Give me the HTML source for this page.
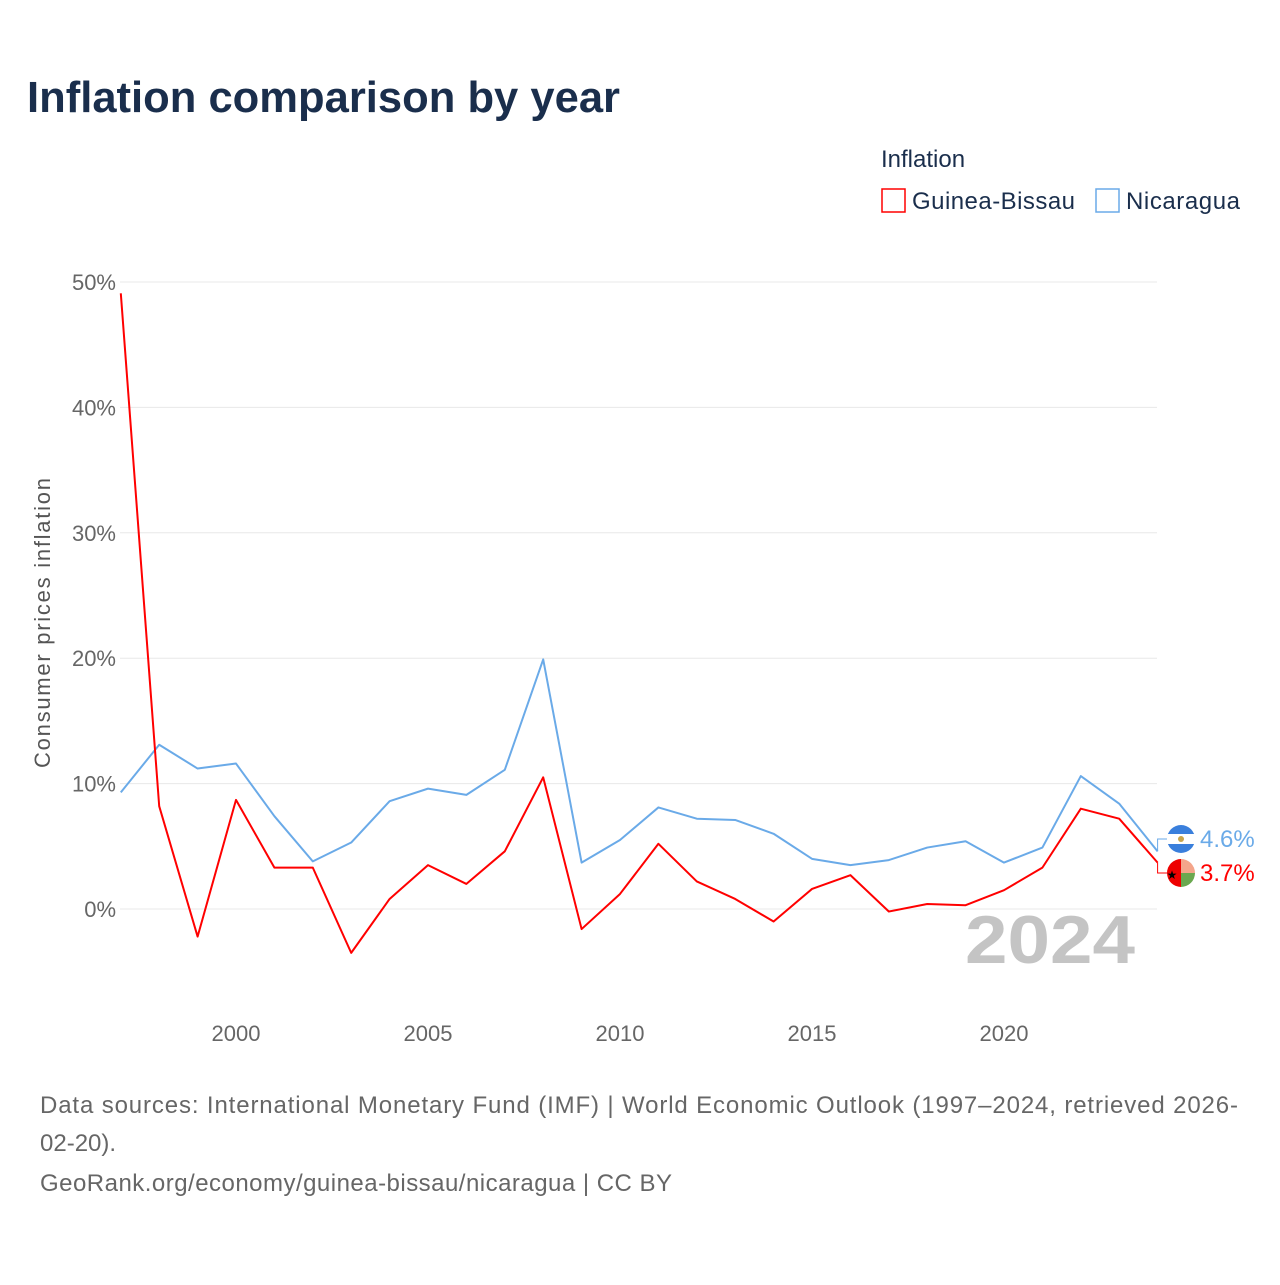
<!DOCTYPE html>
<html><head><meta charset="utf-8"><style>
body{margin:0;width:1280px;height:1280px;background:#fff;font-family:"Liberation Sans",sans-serif;}
</style></head><body>
<svg id="chart" width="1280" height="1280" xmlns="http://www.w3.org/2000/svg">
<text x="27" y="112" font-size="44" font-weight="bold" fill="#1a2e4c" textLength="593" lengthAdjust="spacingAndGlyphs">Inflation comparison by year</text>
<text x="881" y="167" font-size="24" fill="#1a2e4c">Inflation</text>
<g><rect x="882" y="189" width="23" height="23" fill="none" stroke="#f00" stroke-width="1.5"/><text x="912" y="209" font-size="24" fill="#1a2e4c" textLength="163">Guinea-Bissau</text></g>
<g><rect x="1096" y="189" width="23" height="23" fill="none" stroke="#6aaae8" stroke-width="1.5"/><text x="1126" y="209" font-size="24" fill="#1a2e4c" textLength="114">Nicaragua</text></g>
<text transform="translate(50,623) rotate(-90)" text-anchor="middle" font-size="22" fill="#555" textLength="290">Consumer prices inflation</text>
<g id="grid"></g><g id="xt"></g>
<text x="965" y="963" font-size="68" font-weight="bold" fill="#c4c4c4" textLength="170" lengthAdjust="spacingAndGlyphs">2024</text>
<g id="series"></g>
<text x="40" y="1113" font-size="24" fill="#666" textLength="1198">Data sources: International Monetary Fund (IMF) | World Economic Outlook (1997–2024, retrieved 2026-</text>
<text x="40" y="1151" font-size="24" fill="#666">02-20).</text>
<text x="40" y="1191" font-size="24" fill="#666" textLength="632">GeoRank.org/economy/guinea-bissau/nicaragua | CC BY</text>
</svg>
<script>
const years=[1997,1998,1999,2000,2001,2002,2003,2004,2005,2006,2007,2008,2009,2010,2011,2012,2013,2014,2015,2016,2017,2018,2019,2020,2021,2022,2023,2024];
const guineaBissau=[49.1,8.2,-2.2,8.7,3.3,3.3,-3.5,0.8,3.5,2.0,4.6,10.5,-1.6,1.2,5.2,2.2,0.8,-1.0,1.6,2.7,-0.2,0.4,0.3,1.5,3.3,8.0,7.2,3.7];
const nicaragua=[9.3,13.1,11.2,11.6,7.4,3.8,5.3,8.6,9.6,9.1,11.1,19.9,3.7,5.5,8.1,7.2,7.1,6.0,4.0,3.5,3.9,4.9,5.4,3.7,4.9,10.6,8.4,4.6];
const yTicks=[0,10,20,30,40,50];
const xTicks=[2000,2005,2010,2015,2020];
const NS="http://www.w3.org/2000/svg";
const xs=y=>120.8+(y-1997)*38.4, ys=v=>909-v*12.54;
const grid=document.getElementById('grid'),xt=document.getElementById('xt'),ser=document.getElementById('series');
function mk(tag,at,parent){const e=document.createElementNS(NS,tag);for(const k in at)e.setAttribute(k,at[k]);parent.appendChild(e);return e;}
yTicks.forEach(t=>{
 const l=mk('line',{x1:120,x2:1157,y1:ys(t),y2:ys(t),stroke:'#e8e8e8','stroke-width':1},grid);
 
 
 const tx=mk('text',{x:116,y:ys(t)+8,'text-anchor':'end','font-size':22,fill:'#666'},grid);
 tx.textContent=t+'%';
 
 
});
xTicks.forEach(t=>{
 const tx=mk('text',{x:xs(t),y:1041,'text-anchor':'middle','font-size':22,fill:'#666'},xt);
 tx.textContent=t;
 
 
});
function line(vals,color,name){
 const p=mk('polyline',{points:vals.map((v,i)=>xs(years[i])+','+ys(v)).join(' '),fill:'none',stroke:color,'stroke-width':2,'stroke-linejoin':'round'},ser);
 
 
}
line(nicaragua,'#6aaae8','nicaragua-line');
line(guineaBissau,'#f00','guinea-bissau-line');
const lastN=nicaragua[nicaragua.length-1],lastG=guineaBissau[guineaBissau.length-1];
const xe=xs(2024);
const fn=mk('g',{},ser);


mk('path',{d:`M${xe} ${ys(lastN)} L${xe} ${839} L1167 839`,fill:'none',stroke:'#6aaae8','stroke-width':1},fn);
mk('circle',{cx:1181,cy:839,r:14,fill:'#3a7fdc'},fn);
mk('rect',{x:1167,y:834,width:28,height:10,fill:'#fff'},fn);
mk('circle',{cx:1181,cy:839,r:3,fill:'#c9a54a'},fn);
const tn=mk('text',{x:1200,y:847,'font-size':24,fill:'#6aaae8'},ser);
tn.textContent=lastN+'%';


const fg=mk('g',{},ser);


mk('path',{d:`M${xe} ${ys(lastG)} L${xe} 873 L1167 873`,fill:'none',stroke:'#f00','stroke-width':1},fg);
mk('path',{d:'M1181 859 A14 14 0 0 0 1181 887 Z',fill:'#e00'},fg);
mk('path',{d:'M1181 859 A14 14 0 0 1 1195 873 L1181 873 Z',fill:'#f4a58a'},fg);
mk('path',{d:'M1181 873 L1195 873 A14 14 0 0 1 1181 887 Z',fill:'#6aa84f'},fg);
const st=mk('text',{x:1172,y:879,'text-anchor':'middle','font-size':12,fill:'#000'},fg);st.textContent='★';
const tg=mk('text',{x:1200,y:881,'font-size':24,fill:'#f00'},ser);
tg.textContent=lastG+'%';


</script>
</body></html>
